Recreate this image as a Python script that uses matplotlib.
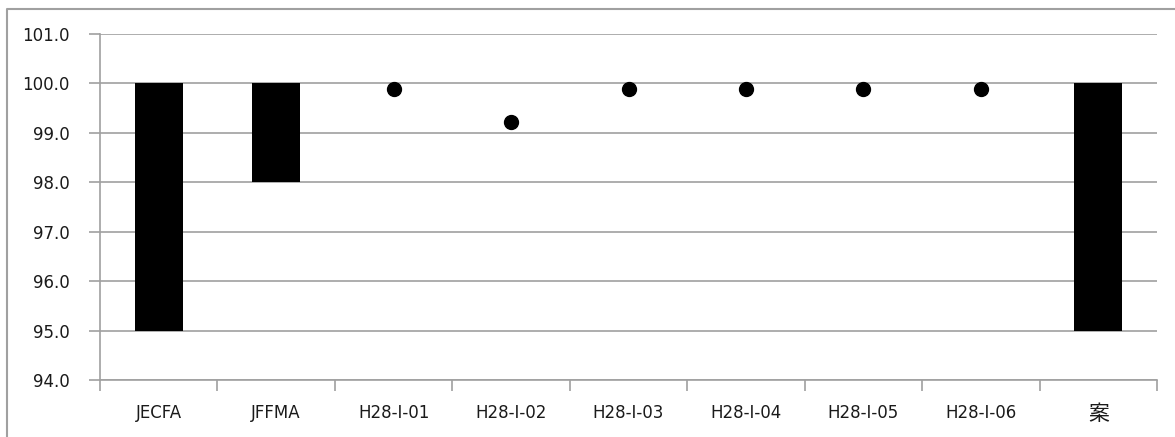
import numpy as np
import matplotlib.pyplot as plt
from matplotlib.lines import Line2D

plt.rcParams['font.family'] = ['DejaVu Sans', 'Noto Sans CJK JP']

categories = ["JECFA", "JFFMA", "H28-I-01", "H28-I-02", "H28-I-03",
              "H28-I-04", "H28-I-05", "H28-I-06", "案"]
# range specs: (category index, low, high)
range_idx = [0, 1, 8]
range_low = [95.0, 98.0, 95.0]
range_high = [100.0, 100.0, 100.0]
# measured points
point_idx = [2, 3, 4, 5, 6, 7]
point_val = [99.88, 99.22, 99.88, 99.88, 99.88, 99.88]

yticks = np.arange(94.0, 101.01, 1.0)

fig = plt.figure(figsize=(11.75, 4.37), dpi=100)
# chart area frame: only top and left edges fall inside the picture
fx, fy = 7 / 1175, 1 - 9 / 437
fig.lines.append(Line2D([fx, fx, 1], [0, fy, fy], transform=fig.transFigure,
                        color="#a0a0a0", linewidth=1.5))
ax = fig.add_axes([100 / 1175, 1 - 380 / 437, 1057 / 1175, 346 / 437])

x = np.arange(len(categories))
ax.bar(range_idx, np.array(range_high) - np.array(range_low), bottom=range_low,
       width=0.41, color="black", zorder=3)
ax.plot(point_idx, point_val, "o", color="black", markersize=10, zorder=4)

ax.set_xlim(-0.5, len(categories) - 0.5)
ax.set_ylim(94.0, 101.0)
ax.set_yticks(yticks)
ax.set_yticklabels([f"{v:.1f}" for v in yticks])
ax.yaxis.grid(True, color="#a0a0a0", linewidth=1.2)
ax.set_axisbelow(True)

ax.set_xticks(x)
ax.set_xticklabels(categories)
ax.tick_params(axis="x", length=0, pad=17, labelsize=12, labelcolor="#1a1a1a")
ax.get_xticklabels()[-1].set_fontsize(15)
ax.set_xticks(np.arange(-0.5, len(categories)), minor=True)
ax.tick_params(axis="x", which="minor", length=8, color="#a0a0a0", width=1.2)
ax.tick_params(axis="y", length=8, color="#a0a0a0", width=1.2, labelsize=12,
               labelcolor="#1a1a1a", pad=14)

for s in ["top", "right"]:
    ax.spines[s].set_visible(False)
for s in ["left", "bottom"]:
    ax.spines[s].set_color("#a0a0a0")
    ax.spines[s].set_linewidth(1.2)

fig.savefig("out.png", dpi=100)
